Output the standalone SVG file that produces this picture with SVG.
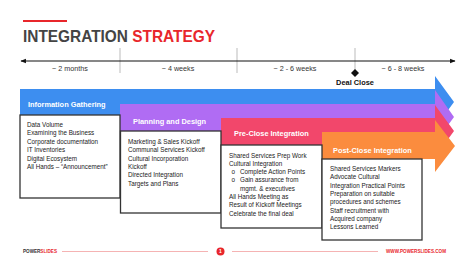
<svg xmlns="http://www.w3.org/2000/svg" width="474" height="266" viewBox="0 0 474 266">
<defs>
<style>
.t{font-family:"Liberation Sans",Arial,sans-serif}
.body{font-family:"Liberation Sans",Arial,sans-serif;font-size:6.3px;fill:#222}
.hdr{font-family:"Liberation Sans",Arial,sans-serif;font-size:7.4px;font-weight:bold;fill:#fff}
.lbl{font-family:"Liberation Sans",Arial,sans-serif;font-size:7.2px;fill:#333;text-anchor:middle}
.box{fill:#fff;stroke:#333;stroke-width:1.3}
.tick{stroke:#bbb;stroke-width:1}
</style>
<marker id="ah" viewBox="0 0 10 10" refX="9" refY="5" markerWidth="5" markerHeight="5" orient="auto-start-reverse">
<path d="M0,1 L10,5 L0,9 Z" fill="#111"/>
</marker>
</defs>
<rect width="474" height="266" fill="#fff"/>
<g id="title">
<rect x="23" y="20" width="44" height="2" fill="#e8262b"/>
<text class="t" x="23" y="42" font-size="16.5" font-weight="bold" fill="#444" textLength="192" lengthAdjust="spacingAndGlyphs">INTEGRATION <tspan fill="#e8262b">STRATEGY</tspan></text>
</g>
<g id="timeline">
<line class="tick" x1="120" y1="48" x2="120" y2="73"/>
<line class="tick" x1="237" y1="48" x2="237" y2="73"/>
<line class="tick" x1="355" y1="48" x2="355" y2="73"/>
<line x1="21" y1="61" x2="455" y2="61" stroke="#111" stroke-width="1.1" marker-start="url(#ah)" marker-end="url(#ah)"/>
<text class="lbl" x="70" y="71">~ 2 months</text>
<text class="lbl" x="178" y="71">~ 4 weeks</text>
<text class="lbl" x="295" y="71">~ 2 - 6 weeks</text>
<text class="lbl" x="403" y="71">~ 6 - 8 weeks</text>
<path d="M355,69 L359,73 L355,77 L351,73 Z" fill="#111"/>
<text class="t" x="355" y="85" font-size="7.4" font-weight="bold" fill="#111" text-anchor="middle">Deal Close</text>
</g>
<g id="connectors">
<path d="M20,89 H435 V76 L454,102 L435,128 V115 H20 Z" fill="#3d8ef0"/>
<path d="M120,104 H435 V90 L454,117 L435,143 V131 H120 Z" fill="#b06cf3"/>
<path d="M221,118 H435 V105 L454,131 L435,157 V145 H221 Z" fill="#f2476b"/>
<path d="M322,132 H435 V120 L455,146 L435,172 V159 H322 Z" fill="#fb8c3e"/>
</g>
<g id="information-gathering">
<text class="hdr" x="28" y="107">Information Gathering</text>
<rect class="box" x="20" y="115" width="100" height="83"/>
<text class="body" x="27" y="127">Data Volume</text>
<text class="body" x="27" y="135.4">Examining the Business</text>
<text class="body" x="27" y="143.8">Corporate documentation</text>
<text class="body" x="27" y="152.2">IT Inventories</text>
<text class="body" x="27" y="160.6">Digital Ecosystem</text>
<text class="body" x="27" y="169">All Hands – “Announcement”</text>
</g>
<g id="planning-and-design">
<text class="hdr" x="133" y="124">Planning and Design</text>
<rect class="box" x="120.5" y="131" width="100.5" height="82"/>
<text class="body" x="128" y="144">Marketing &amp; Sales Kickoff</text>
<text class="body" x="128" y="152.3">Communal Services Kickoff</text>
<text class="body" x="128" y="160.6">Cultural Incorporation</text>
<text class="body" x="128" y="168.9">Kickoff</text>
<text class="body" x="128" y="177.2">Directed Integration</text>
<text class="body" x="128" y="185.5">Targets and Plans</text>
</g>
<g id="pre-close-integration">
<text class="hdr" x="234" y="136">Pre-Close Integration</text>
<rect class="box" x="221" y="145" width="101" height="83"/>
<text class="body" x="229" y="157.5">Shared Services Prep Work</text>
<text class="body" x="229" y="165.8">Cultural Integration</text>
<text class="body" x="231.5" y="174.1">o</text>
<text class="body" x="240" y="174.1">Complete Action Points</text>
<text class="body" x="231.5" y="182.4">o</text>
<text class="body" x="240" y="182.4">Gain assurance from</text>
<text class="body" x="240" y="190.7">mgmt. &amp; executives</text>
<text class="body" x="229" y="199">All Hands Meeting as</text>
<text class="body" x="229" y="207.3">Result of Kickoff Meetings</text>
<text class="body" x="229" y="215.6">Celebrate the final deal</text>
</g>
<g id="post-close-integration">
<text class="hdr" x="333" y="153">Post-Close Integration</text>
<rect class="box" x="322" y="159" width="100" height="81"/>
<text class="body" x="330" y="171">Shared Services Markers</text>
<text class="body" x="330" y="179.3">Advocate Cultural</text>
<text class="body" x="330" y="187.6">Integration Practical Points</text>
<text class="body" x="330" y="195.9">Preparation on suitable</text>
<text class="body" x="330" y="204.2">procedures and schemes</text>
<text class="body" x="330" y="212.5">Staff recruitment with</text>
<text class="body" x="330" y="220.8">Acquired company</text>
<text class="body" x="330" y="229.1">Lessons Learned</text>
</g>
<g id="footer">
<text class="t" x="23" y="253" font-size="4.6" font-weight="bold" fill="#333">POWER<tspan fill="#e8262b">SLIDES</tspan></text>
<line x1="62" y1="251.5" x2="208" y2="251.5" stroke="#f2a0a0" stroke-width="0.8"/>
<circle cx="220.5" cy="251.5" r="4" fill="#e8262b"/>
<text class="t" x="220.5" y="253.3" font-size="5" font-weight="bold" fill="#fff" text-anchor="middle">1</text>
<line x1="232" y1="251.5" x2="378" y2="251.5" stroke="#f2a0a0" stroke-width="0.8"/>
<text class="t" x="386" y="253" font-size="4.6" font-weight="bold" fill="#e8262b">WWW.POWERSLIDES.COM</text>
</g>
</svg>
